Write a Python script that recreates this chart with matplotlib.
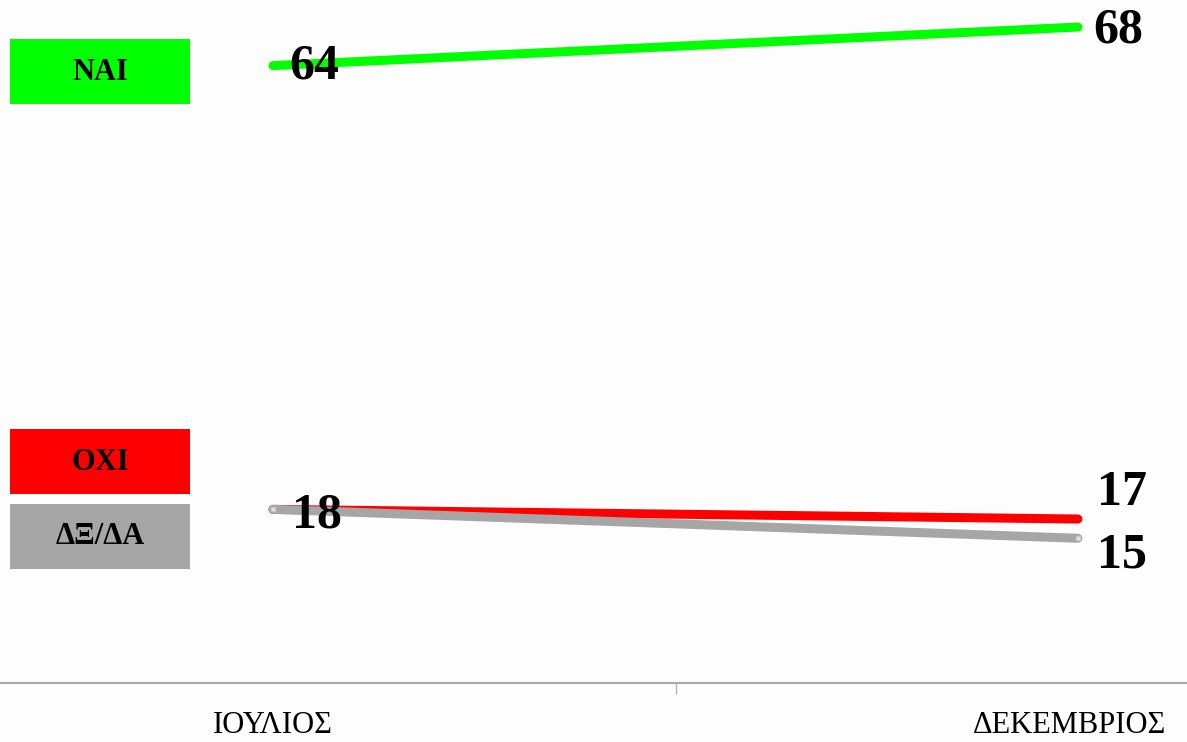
import matplotlib
matplotlib.use('Agg')
from matplotlib import pyplot as plt
from matplotlib.patches import Rectangle

# chart data
months = ['ΙΟΥΛΙΟΣ', 'ΔΕΚΕΜΒΡΙΟΣ']
series_names = ['ΝΑΙ', 'ΟΧΙ', 'ΔΞ/ΔΑ']
yes_values = [64, 68]
no_values = [18, 17]
dkna_values = [18, 15]
series_colors = ['#00ff00', '#ff0000', '#a6a6a6']

W, H = 1187, 742
fig = plt.figure(figsize=(W / 100, H / 100), dpi=100)
fig.patch.set_facecolor('#fdfdfd')

# axes fill the whole width, x axis line sits at pixel row 683
ax = fig.add_axes([0, (H - 683) / H, 1, 683 / H])
ax.set_facecolor('none')
ax.set_xlim(-273 / 805, 1 + (W - 1078) / 805)
ax.set_ylim(0, 70.8)

x = list(range(len(months)))
ax.plot(x, dkna_values, color=series_colors[2], linewidth=6.5, solid_capstyle='round', zorder=3,
        marker='s', markersize=3, markerfacecolor='#e8e8e8', markeredgecolor='#c8c8c8')
ax.plot(x, no_values, color=series_colors[1], linewidth=6.5, solid_capstyle='round', zorder=2)
ax.plot(x, yes_values, color=series_colors[0], linewidth=6.5, solid_capstyle='round', zorder=2)

label_font = dict(family='Liberation Serif', fontsize=36, fontweight='bold', color='black', zorder=5)
# value labels
ax.text(x[0] + 0.051, yes_values[0] - 0.1, str(yes_values[0]), ha='center', va='center', **label_font)
ax.text(x[1] + 0.019, yes_values[1] - 0.35, str(yes_values[1]), ha='left', va='center', **label_font)
ax.text(x[0] + 0.055, no_values[0] - 0.6, str(no_values[0]), ha='center', va='center', **label_font)
ax.text(x[1] + 0.024, no_values[1] + 2.7, str(no_values[1]), ha='left', va='center', **label_font)
ax.text(x[1] + 0.024, dkna_values[1] - 1.8, str(dkna_values[1]), ha='left', va='center', **label_font)

# x axis: line, one tick between the categories, month labels
for side in ['top', 'right', 'left']:
    ax.spines[side].set_visible(False)
ax.spines['bottom'].set_color('#a8a8a8')
ax.spines['bottom'].set_linewidth(1.5)
ax.set_yticks([])
ax.set_xticks([0.5])
ax.set_xticklabels([''])
ax.tick_params(axis='x', length=8, width=1, color='#b0b0b0', direction='out')
month_x = [x[0], x[1] - 0.01]
for xi, name in zip(month_x, months):
    ax.text(xi, -4.4, name, ha='center', va='center', family='Liberation Serif',
            fontsize=22, color='black', clip_on=False)

# legend boxes on the left
box_tops = [39, 429, 504]
for top, name, color in zip(box_tops, series_names, series_colors):
    fig.patches.append(Rectangle((10 / W, 1 - (top + 65) / H), 180 / W, 65 / H,
                                 transform=fig.transFigure, facecolor=color, edgecolor='none'))
    fig.text(100 / W, 1 - (top + 33) / H, name, ha='center', va='center', family='Liberation Serif',
             fontsize=22, fontweight='bold', color='black')

fig.savefig('out.png', dpi=100)
